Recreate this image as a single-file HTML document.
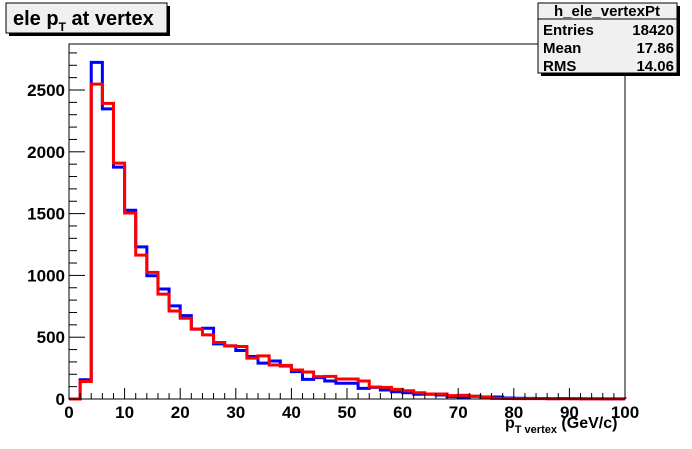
<!DOCTYPE html>
<html><head><meta charset="utf-8"><style>
body{margin:0;background:#fff;font-family:"Liberation Sans",Arial,sans-serif}
svg text{font-family:"Liberation Sans",Arial,sans-serif;font-weight:bold}
</style></head><body>
<svg width="692" height="444" viewBox="0 0 692 444" xmlns="http://www.w3.org/2000/svg">
<rect x="0" y="0" width="692" height="444" fill="#fff"/>
<g id="plot"></g>
<rect x="69" y="44" width="556" height="355" fill="none" stroke="#000" stroke-width="1"/>
<g>
<rect x="9" y="6" width="161" height="30" fill="#000"/>
<rect x="6" y="3" width="161" height="30" fill="#f0f0f0" stroke="#000"/>
<text x="13" y="25" font-size="20">ele p<tspan font-size="12" dy="6">T</tspan><tspan dy="-6"> at vertex</tspan></text>
</g>
<g>
<rect x="541" y="6" width="139" height="70" fill="#000"/>
<rect x="538" y="3" width="139" height="70" fill="#f0f0f0" stroke="#000"/>
<line x1="538" y1="19" x2="677" y2="19" stroke="#000"/>
<text x="607" y="16" font-size="15" text-anchor="middle">h_ele_vertexPt</text>
<text x="543" y="35" font-size="15">Entries</text>
<text x="674" y="35" font-size="15" text-anchor="end">18420</text>
<text x="543" y="53" font-size="15">Mean</text>
<text x="674" y="53" font-size="15" text-anchor="end">17.86</text>
<text x="543" y="71" font-size="15">RMS</text>
<text x="674" y="71" font-size="15" text-anchor="end">14.06</text>
</g>
<text x="505" y="428" font-size="16">p<tspan font-size="11" dy="5">T vertex</tspan><tspan dy="-5"> (GeV/c)</tspan></text>
</svg>
<script>
const binEdges=[0,100];
const nBins=50;
const blueValues=[0,156,2723,2347,1876,1527,1231,997,890,753,675,565,572,446,430,392,344,290,307,267,221,159,173,146,127,127,86,94,73,59,51,38,38,32,19,8,22,16,16,8,6,5,4,3,4,3,2,2,1,1];
const redValues=[0,142,2548,2392,1908,1505,1164,1024,849,712,653,565,519,457,430,425,331,349,275,272,235,218,181,183,162,162,146,97,94,78,67,51,40,40,27,30,22,13,5,4,3,3,3,2,2,2,1,1,1,1];
const xTicks=[0,10,20,30,40,50,60,70,80,90,100];
const yTicks=[0,500,1000,1500,2000,2500];
const X0=69,X1=625,Y0=399,PPU=0.1236;
const sx=v=>X0+(v-binEdges[0])/(binEdges[1]-binEdges[0])*(X1-X0);
const sy=v=>Y0-v*PPU;
const NS="http://www.w3.org/2000/svg";
const g=document.getElementById('plot');
function mk(t,a){const e=document.createElementNS(NS,t);for(const k in a)e.setAttribute(k,a[k]);g.appendChild(e);return e;}
const bw=(binEdges[1]-binEdges[0])/nBins;
function path(vals){let d='M'+sx(0)+' '+sy(0);for(let i=0;i<vals.length;i++){d+=' L'+sx(i*bw)+' '+sy(vals[i])+' L'+sx((i+1)*bw)+' '+sy(vals[i]);}d+=' L'+sx(nBins*bw)+' '+sy(0);return d;}
let p=mk('path',{d:path(blueValues),fill:'none',stroke:'#0000ff','stroke-width':3});


p=mk('path',{d:path(redValues),fill:'none',stroke:'#ff0000','stroke-width':3});


for(let v=0;v<=100;v+=2){const big=v%10===0;const l=mk('line',{x1:sx(v),x2:sx(v),y1:Y0,y2:Y0-(big?11:6),stroke:'#000'});

}
xTicks.forEach(v=>{const t=mk('text',{x:sx(v),y:418,'font-size':17,'text-anchor':'middle'});t.textContent=v;

});
for(let v=0;v<=2800;v+=100){if(sy(v)<44)break;const big=v%500===0;const l=mk('line',{x1:X0,x2:X0+(big?16:8),y1:sy(v),y2:sy(v),stroke:'#000'});

}
yTicks.forEach(v=>{const t=mk('text',{x:65,y:sy(v)+6,'font-size':17,'text-anchor':'end'});t.textContent=v;

});
</script>
</body></html>
